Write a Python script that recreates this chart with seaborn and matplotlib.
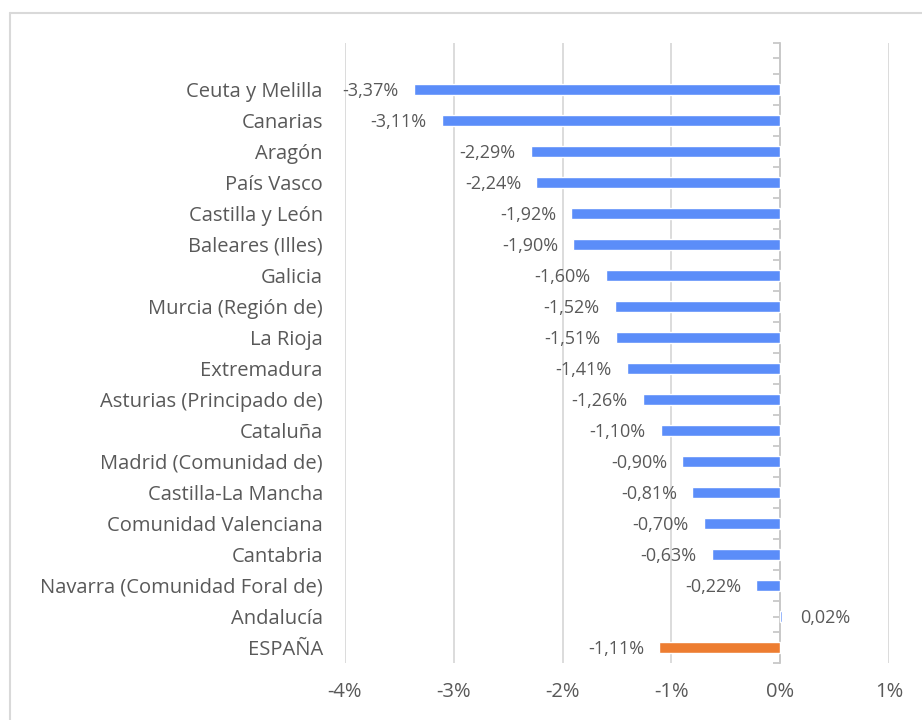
import pandas as pd
import matplotlib
matplotlib.use("Agg")
import matplotlib.pyplot as plt
import seaborn as sns
from matplotlib.lines import Line2D

regions = ["Ceuta y Melilla", "Canarias", "Aragón", "País Vasco", "Castilla y León",
           "Baleares (Illes)", "Galicia", "Murcia (Región de)", "La Rioja", "Extremadura",
           "Asturias (Principado de)", "Cataluña", "Madrid (Comunidad de)",
           "Castilla-La Mancha", "Comunidad Valenciana", "Cantabria",
           "Navarra (Comunidad Foral de)", "Andalucía", "ESPAÑA"]
change_pct = [-3.37, -3.11, -2.29, -2.24, -1.92, -1.90, -1.60, -1.52, -1.51, -1.41,
              -1.26, -1.10, -0.90, -0.81, -0.70, -0.63, -0.22, 0.02, -1.11]
x_ticks = [-4, -3, -2, -1, 0, 1]

blue = "#5B8DF9"
orange = "#ED7D31"
grey_text = "#595959"
grey_line = "#D9D9D9"

df = pd.DataFrame({"region": regions, "change": change_pct})
colors = [orange if r == "ESPAÑA" else blue for r in regions]

sns.set_style("white")
plt.rcParams["font.family"] = ["Open Sans", "DejaVu Sans"]

fig = plt.figure(figsize=(9.22, 7.2), dpi=100)
ax = fig.add_axes([345 / 922, 1 - 663 / 720, 544 / 922, 620 / 720])

sns.barplot(data=df, y="region", x="change", hue="region", palette=colors,
            legend=False, orient="h", width=0.34, saturation=1, ax=ax, zorder=3)

ax.set_xlim(-4, 1)
ax.set_ylim(18.5, -1.5)
ax.set_xticks(x_ticks)
ax.set_xticklabels([f"{t}%" for t in x_ticks], color=grey_text, fontsize=14.5)
ax.xaxis.grid(True, color=grey_line, linewidth=1.3)
ax.set_axisbelow(True)
ax.tick_params(axis="x", length=0, pad=14)
ax.tick_params(axis="y", length=0, pad=16, labelsize=14.5, labelcolor=grey_text)
ax.set_xlabel("")
ax.set_ylabel("")
for s in ax.spines.values():
    s.set_visible(False)

# zero axis with tick marks on its left side
zero_ax = ax.secondary_yaxis(0.8)
zero_ax.set_alignment("left")
zero_ax.set_yticks([i / 2 for i in range(-3, 38)])
zero_ax.set_yticklabels([])
zero_ax.tick_params(axis="y", direction="out", length=5, color="#C8C8C8", width=1.3)
zero_ax.spines["left"].set_color("#C8C8C8")
zero_ax.spines["left"].set_linewidth(1.3)
zero_ax.set_zorder(2)

for i, v in enumerate(change_pct):
    label = f"{v:.2f}%".replace(".", ",")
    if v < 0:
        ax.annotate(label, (v, i), xytext=(-11, -1), textcoords="offset points",
                    ha="right", va="center", fontsize=13, color=grey_text)
    else:
        ax.annotate(label, (v, i), xytext=(13, -1), textcoords="offset points",
                    ha="left", va="center", fontsize=13, color=grey_text)

# chart border (cropped on the right and bottom)
fig.add_artist(Line2D([10 / 922, 1.0], [1 - 13 / 720, 1 - 13 / 720],
                      transform=fig.transFigure, color=grey_line, linewidth=1.5))
fig.add_artist(Line2D([10 / 922, 10 / 922], [0.0, 1 - 13 / 720],
                      transform=fig.transFigure, color=grey_line, linewidth=1.5))

fig.savefig("out.png", dpi=100)
